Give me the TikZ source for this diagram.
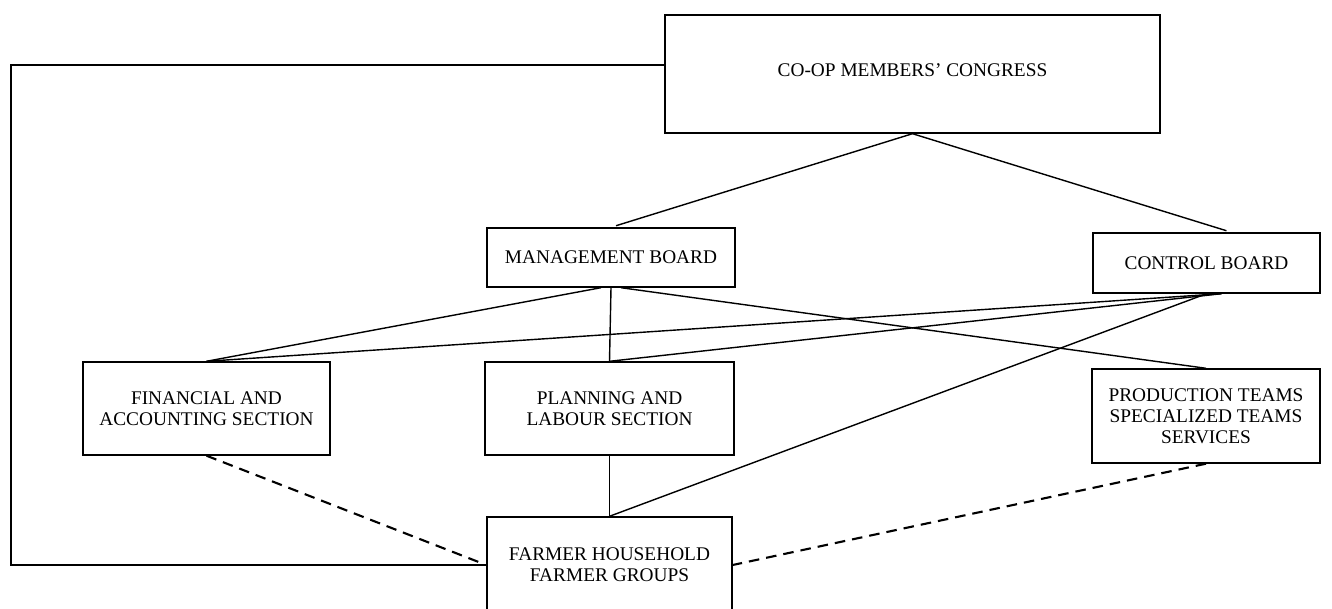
\documentclass[tikz,border=0pt]{standalone}
\usepackage{fontspec}
\setmainfont{Liberation Serif}
\usepackage{tikz}
\usetikzlibrary{positioning, calc}

\begin{document}
\begin{tikzpicture}[
    unitbox/.style={draw, line width=0.8pt, align=center, inner sep=2pt,
      font=\fontsize{11}{12}\selectfont},
    link/.style={line width=0.8pt},
    weaklink/.style={line width=1.2pt, dash pattern=on 6pt off 4pt}
  ]
\useasboundingbox (0,0) rectangle (26.64,12.18);
\clip (0,0) rectangle (26.64,12.18);

% --- Top level ---
\node[unitbox, minimum width=9.9cm, minimum height=2.36cm] (congress) at (18.25,10.70) {\raisebox{4pt}{CO-OP MEMBERS' CONGRESS}};

% --- Boards ---
\node[unitbox, minimum width=4.96cm, minimum height=1.18cm] (mgmt) at (12.22,7.03) {MANAGEMENT BOARD};
\node[unitbox, minimum width=4.54cm, minimum height=1.2cm] (ctrl) at (24.13,6.92) {CONTROL BOARD};

% --- Sections and teams ---
\node[unitbox, minimum width=4.94cm, minimum height=1.86cm] (fin) at (4.13,4.01) {FINANCIAL AND\\ACCOUNTING SECTION};
\node[unitbox, minimum width=4.98cm, minimum height=1.86cm] (plan) at (12.19,4.01) {PLANNING AND\\LABOUR SECTION};
\node[unitbox, minimum width=4.56cm, minimum height=1.88cm] (prod) at (24.12,3.86) {PRODUCTION TEAMS\\SPECIALIZED TEAMS\\SERVICES};

% --- Base unit (runs off the page) ---
\node[unitbox, minimum width=4.9cm, minimum height=1.92cm] (farmer) at (12.19,0.88) {FARMER HOUSEHOLD\\FARMER GROUPS};

% Congress to boards
\draw[link, shorten >=3pt] (congress.south) -- (mgmt.north);
\draw[link, shorten >=3pt] (congress.south) -- ($(ctrl.north)+(0.5,0)$);

% Management board lines
\draw[link] ($(mgmt.south)+(-0.2,0)$) -- (fin.north);
\draw[link] (mgmt.south) -- (plan.north);
\draw[link] ($(mgmt.south)+(0.2,0)$) -- (prod.north);

% Control board lines
\draw[link] ($(ctrl.south)+(0.3,0)$) -- (fin.north);
\draw[link] ($(ctrl.south)+(0.3,0)$) -- (plan.north);
\draw[link] (ctrl.south) -- (farmer.north);

% Planning to farmers
\draw[link] (plan.south) -- (farmer.north);

% Dashed ties to farmers
\draw[weaklink, shorten >=4pt] (fin.south) -- (farmer.west);
\draw[weaklink] (prod.south) -- (farmer.east);

% Feedback line round the left side
\coordinate (fbline) at (0.22,0);
\coordinate (fbstart) at ($(congress.west)+(0,0.18)$);
\draw[link] (fbstart) -| (fbline |- farmer.west) -- (farmer.west);

\end{tikzpicture}
\end{document}
